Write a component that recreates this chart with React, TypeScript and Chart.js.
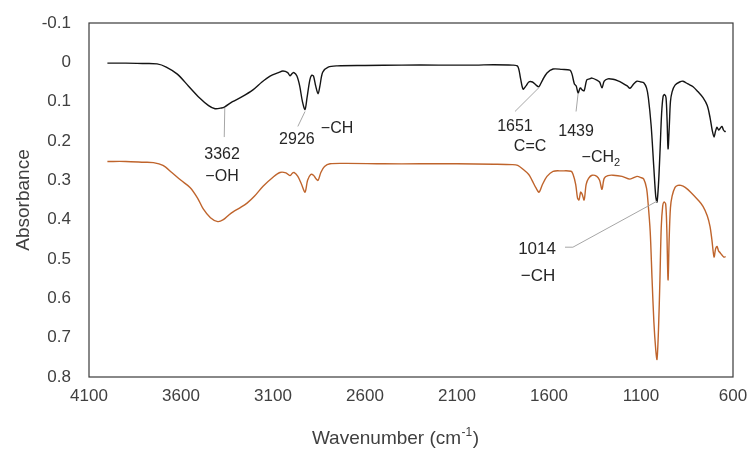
import React, { useEffect, useRef } from "react";
import { Chart, registerables } from "chart.js";

Chart.register(...registerables);

// Upper spectrum (black)
const blackWn = [4000, 3900, 3800, 3730, 3680, 3620, 3560, 3500, 3450, 3415, 3380, 3362, 3320, 3270, 3209, 3160, 3116, 3070, 3046, 3020, 3008, 2995, 2986, 2970, 2955, 2940, 2926, 2915, 2900, 2890, 2880, 2868, 2855, 2845, 2830, 2800, 2750, 2600, 2400, 2200, 2000, 1900, 1800, 1770, 1755, 1741, 1725, 1710, 1690, 1670, 1655, 1635, 1611, 1578, 1530, 1486, 1475, 1462, 1452, 1442, 1430, 1420, 1409, 1395, 1380, 1366, 1340, 1325, 1312, 1300, 1280, 1252, 1225, 1203, 1175, 1160, 1140, 1122, 1100, 1085, 1070, 1060, 1045, 1030, 1020, 1013, 1005, 997, 988, 980, 972, 964, 958, 953, 946, 940, 931, 915, 890, 872, 845, 817, 790, 763, 740, 725, 712, 703, 695, 687, 678, 670, 660, 652, 644, 640];
const blackAbs = [0.002, 0.002, 0.003, 0.004, 0.012, 0.03, 0.06, 0.09, 0.11, 0.118, 0.116, 0.113, 0.1, 0.088, 0.07, 0.05, 0.035, 0.026, 0.022, 0.026, 0.034, 0.028, 0.026, 0.035, 0.06, 0.1, 0.12, 0.09, 0.045, 0.033, 0.035, 0.06, 0.08, 0.06, 0.025, 0.012, 0.009, 0.008, 0.007, 0.007, 0.007, 0.006, 0.007, 0.01, 0.04, 0.068, 0.06, 0.05, 0.05, 0.058, 0.062, 0.045, 0.027, 0.017, 0.018, 0.02, 0.03, 0.055, 0.06, 0.078, 0.065, 0.07, 0.072, 0.045, 0.042, 0.04, 0.045, 0.05, 0.065, 0.048, 0.042, 0.043, 0.047, 0.052, 0.06, 0.066, 0.055, 0.048, 0.05, 0.052, 0.065, 0.09, 0.16, 0.27, 0.34, 0.355, 0.31, 0.23, 0.13, 0.087, 0.082, 0.09, 0.15, 0.22, 0.16, 0.1, 0.075, 0.058, 0.05, 0.048, 0.055, 0.062, 0.075, 0.09, 0.11, 0.14, 0.175, 0.19, 0.175, 0.165, 0.172, 0.168, 0.163, 0.172, 0.176, 0.175];

// Lower spectrum (brown)
const brownWn = [4000, 3900, 3800, 3750, 3698, 3650, 3600, 3551, 3510, 3480, 3440, 3400, 3370, 3340, 3317, 3280, 3241, 3200, 3154, 3100, 3062, 3030, 3008, 2995, 2986, 2965, 2945, 2926, 2912, 2895, 2880, 2868, 2855, 2840, 2820, 2790, 2700, 2500, 2300, 2100, 1900, 1800, 1770, 1741, 1710, 1692, 1670, 1654, 1635, 1611, 1578, 1530, 1480, 1469, 1455, 1445, 1437, 1428, 1420, 1409, 1398, 1385, 1366, 1340, 1325, 1312, 1300, 1280, 1252, 1203, 1160, 1122, 1100, 1085, 1070, 1062, 1050, 1040, 1030, 1020, 1013, 1005, 997, 990, 982, 975, 966, 960, 953, 947, 940, 931, 915, 900, 883, 860, 830, 790, 763, 740, 725, 715, 703, 695, 687, 678, 670, 660, 650, 640];
const brownAbs = [0.252, 0.252, 0.254, 0.255, 0.262, 0.28, 0.3, 0.318, 0.345, 0.372, 0.395, 0.405, 0.4, 0.388, 0.38, 0.37, 0.358, 0.34, 0.315, 0.292, 0.28, 0.281, 0.288, 0.282, 0.28, 0.29, 0.31, 0.33, 0.3, 0.285, 0.287, 0.295, 0.3, 0.28, 0.265, 0.258, 0.257, 0.258, 0.258, 0.258, 0.259, 0.26, 0.262, 0.272, 0.285, 0.3, 0.32, 0.33, 0.31, 0.29, 0.277, 0.276, 0.277, 0.285, 0.31, 0.345, 0.35, 0.33, 0.335, 0.35, 0.31, 0.295, 0.287, 0.29, 0.3, 0.323, 0.295, 0.288, 0.287, 0.29, 0.297, 0.29, 0.293, 0.297, 0.32, 0.355, 0.43, 0.55, 0.66, 0.73, 0.755, 0.68, 0.55, 0.42, 0.365, 0.355, 0.36, 0.42, 0.553, 0.45, 0.37, 0.34, 0.318, 0.313, 0.313, 0.318, 0.33, 0.35, 0.366, 0.39, 0.417, 0.45, 0.495, 0.475, 0.468, 0.48, 0.484, 0.49, 0.495, 0.494];

const xTicks = [4100, 3600, 3100, 2600, 2100, 1600, 1100, 600];
const yTicks = [-0.1, 0, 0.1, 0.2, 0.3, 0.4, 0.5, 0.6, 0.7, 0.8];

const xTitle = "Wavenumber (cm";
const xTitleSup = "-1";
const yTitle = "Absorbance";

// Peak annotations: anchor point on the spectrum and label positions (data units)
type Ann = { lines: string[]; sub?: (string | null)[]; labels: [number, number][]; path: [number, number][]; size: number };
const annotations: Ann[] = [
  { lines: ["3362", "−OH"], labels: [[3377, 0.234], [3377, 0.29]], path: [[3362, 0.116], [3365, 0.19]], size: 16 },
  { lines: ["2926"], labels: [[2970, 0.196]], path: [[2926, 0.125], [2965, 0.163]], size: 16 },
  { lines: ["−CH"], labels: [[2752, 0.168]], path: [], size: 16 },
  { lines: ["1651", "C=C"], labels: [[1785, 0.163], [1703, 0.213]], path: [[1654, 0.064], [1785, 0.125]], size: 16 },
  { lines: ["1439"], labels: [[1453, 0.175]], path: [[1442, 0.08], [1453, 0.125]], size: 16 },
  { lines: ["−CH"], sub: ["2"], labels: [[1318, 0.242]], path: [], size: 16 },
  { lines: ["1014", "−CH"], labels: [[1665, 0.475], [1660, 0.544]], path: [[1013, 0.353], [1470, 0.47], [1513, 0.47]], size: 17 },
];

const FONT = "'Liberation Sans', Arial, sans-serif";

const boxPlugin = {
  id: "boxPlugin",
  afterDraw(chart: any) {
    const { ctx, chartArea: a, scales } = chart;
    ctx.save();
    ctx.strokeStyle = "#3a3a3a";
    ctx.lineWidth = 1.2;
    ctx.strokeRect(a.left, a.top, a.right - a.left, a.bottom - a.top);
    const xs = scales.x, ys = scales.y;
    ctx.strokeStyle = "#a6a6a6";
    ctx.lineWidth = 1;
    ctx.fillStyle = "#262626";
    ctx.textAlign = "center";
    ctx.textBaseline = "middle";
    for (const an of annotations) {
      if (an.path.length) {
        ctx.beginPath();
        an.path.forEach(([wx, wy], i) => {
          const px = xs.getPixelForValue(wx), py = ys.getPixelForValue(wy);
          if (i === 0) ctx.moveTo(px, py); else ctx.lineTo(px, py);
        });
        ctx.stroke();
      }
      an.lines.forEach((t, i) => {
        const [wx, wy] = an.labels[i];
        const px = xs.getPixelForValue(wx), py = ys.getPixelForValue(wy);
        ctx.font = `${an.size}px ${FONT}`;
        const s = an.sub && an.sub[i];
        if (s) {
          const w = ctx.measureText(t).width;
          ctx.font = `${Math.round(an.size * 0.7)}px ${FONT}`;
          const ws = ctx.measureText(s).width;
          const x0 = px - (w + ws) / 2;
          ctx.textAlign = "left";
          ctx.fillText(s, x0 + w, py + 5);
          ctx.font = `${an.size}px ${FONT}`;
          ctx.fillText(t, x0, py);
          ctx.textAlign = "center";
        } else {
          ctx.fillText(t, px, py);
        }
      });
    }
    // x-axis title with superscript
    ctx.fillStyle = "#404040";
    ctx.textBaseline = "alphabetic";
    ctx.textAlign = "left";
    ctx.font = `19px ${FONT}`;
    const w1 = ctx.measureText(xTitle).width;
    ctx.font = `12px ${FONT}`;
    const w2 = ctx.measureText(xTitleSup).width;
    ctx.font = `19px ${FONT}`;
    const w3 = ctx.measureText(")").width;
    const total = w1 + w2 + w3;
    const cx = (a.left + a.right) / 2 - 16;
    const x0 = cx - total / 2;
    const base = 444;
    ctx.fillText(xTitle, x0, base);
    ctx.font = `12px ${FONT}`;
    ctx.fillText(xTitleSup, x0 + w1 + 0.5, base - 8);
    ctx.font = `19px ${FONT}`;
    ctx.fillText(")", x0 + w1 + w2 + 1, base);
    ctx.restore();
  },
};

const zeroPad = (s: any) => {
  s.paddingTop = 0;
  s.paddingBottom = 0;
  s.paddingLeft = 0;
  s.paddingRight = 0;
};

export default function App() {
  const ref = useRef<HTMLCanvasElement | null>(null);
  useEffect(() => {
    if (!ref.current) return;
    const chart = new Chart(ref.current, {
      type: "line",
      data: {
        datasets: [
          {
            label: "upper",
            data: blackWn.map((x, i) => ({ x, y: blackAbs[i] })),
            borderColor: "#141414",
            borderWidth: 1.4,
            pointRadius: 0,
            tension: 0.3,
          },
          {
            label: "lower",
            data: brownWn.map((x, i) => ({ x, y: brownAbs[i] })),
            borderColor: "#bf642c",
            borderWidth: 1.4,
            pointRadius: 0,
            tension: 0.3,
          },
        ],
      },
      options: {
        responsive: false,
        maintainAspectRatio: false,
        animation: false,
        layout: { padding: { top: 23, right: 16, left: 0, bottom: 0 } },
        plugins: { legend: { display: false }, tooltip: { enabled: false } },
        scales: {
          x: {
            type: "linear",
            reverse: true,
            min: 600,
            max: 4100,
            afterBuildTicks: (s: any) => { s.ticks = xTicks.map((v) => ({ value: v })); },
            afterFit: (s: any) => { s.height = 72; zeroPad(s); },
            grid: { display: false, drawTicks: false },
            border: { display: false },
            ticks: {
              padding: 9,
              color: "#404040",
              font: { family: FONT, size: 17 },
              callback: (v: any) => String(v),
              maxRotation: 0,
            },
            title: { display: false },
          },
          y: {
            type: "linear",
            reverse: true,
            min: -0.1,
            max: 0.8,
            afterBuildTicks: (s: any) => { s.ticks = yTicks.map((v) => ({ value: v })); },
            afterFit: (s: any) => { s.width = 89; zeroPad(s); },
            grid: { display: false, drawTicks: false },
            border: { display: false },
            ticks: {
              padding: 18,
              color: "#404040",
              font: { family: FONT, size: 17 },
              callback: (v: any) => (Math.abs(v) < 1e-9 ? "0" : Number(v).toFixed(1)),
            },
            title: {
              display: true,
              text: yTitle,
              color: "#404040",
              padding: { top: 12, bottom: 0 },
              font: { family: FONT, size: 19 },
            },
          },
        },
      },
      plugins: [boxPlugin],
    } as any);
    return () => chart.destroy();
  }, []);
  return (
    <div style={{ position: "fixed", left: 0, top: 0, width: 749, height: 449, background: "#fff" }}>
      <canvas ref={ref} width={749} height={449} style={{ display: "block" }} />
    </div>
  );
}
